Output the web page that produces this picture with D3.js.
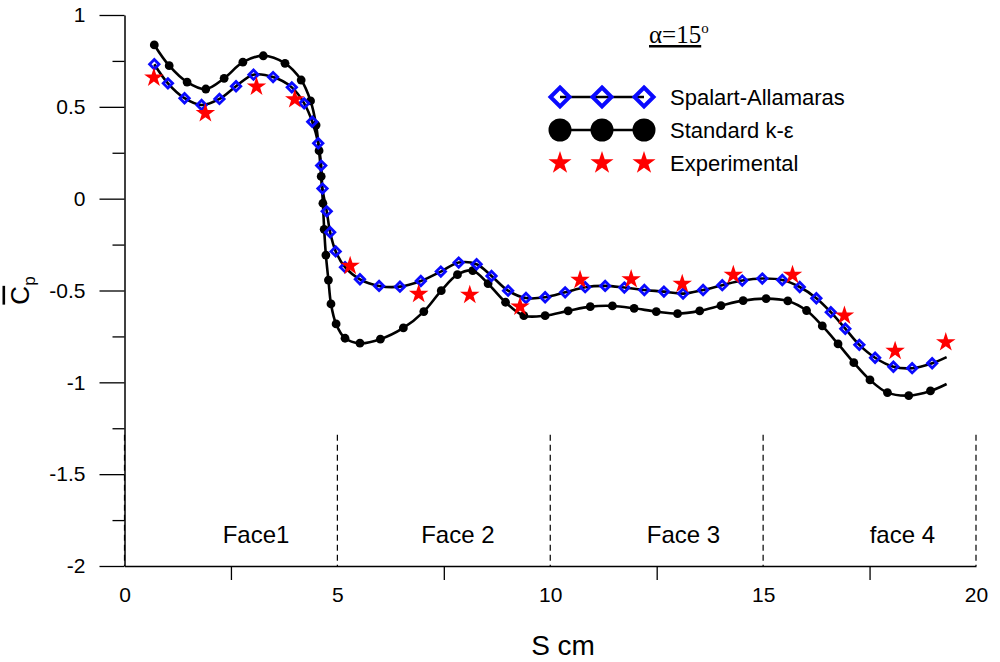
<!DOCTYPE html>
<html>
<head>
<meta charset="utf-8">
<script src="https://cdn.jsdelivr.net/npm/d3@7"></script>
<style>
    body { margin: 0; background: #fff; }
    text { font-family: "Liberation Sans", Arial, sans-serif; }
</style>
</head>
<body>
<div id="my_dataviz"></div>
<script>
// data
var saX = [0.70, 1.02, 1.41, 1.81, 2.23, 2.62, 3.03, 3.49, 3.93, 4.22, 4.41, 4.55, 4.62, 4.65, 4.75, 4.83, 4.96, 5.18, 5.53, 5.98, 6.47, 6.96, 7.43, 7.85, 8.27, 8.62, 9.01, 9.43, 9.88, 10.35, 10.82, 11.29, 11.74, 12.21, 12.67, 13.12, 13.59, 14.04, 14.51, 14.98, 15.45, 15.86, 16.25, 16.59, 16.93, 17.26, 17.63, 18.06, 18.50, 18.97, 19.31];
var saY = [0.732, 0.628, 0.547, 0.510, 0.543, 0.612, 0.675, 0.662, 0.606, 0.519, 0.419, 0.302, 0.180, 0.055, -0.069, -0.183, -0.287, -0.373, -0.439, -0.475, -0.479, -0.448, -0.397, -0.348, -0.357, -0.421, -0.501, -0.541, -0.537, -0.510, -0.482, -0.475, -0.484, -0.497, -0.506, -0.517, -0.497, -0.471, -0.446, -0.435, -0.443, -0.481, -0.542, -0.618, -0.708, -0.796, -0.866, -0.915, -0.923, -0.896, -0.863];

var keX = [0.70, 1.05, 1.47, 1.91, 2.34, 2.78, 3.26, 3.77, 4.15, 4.37, 4.50, 4.57, 4.62, 4.66, 4.69, 4.73, 4.79, 4.85, 4.97, 5.18, 5.53, 6.01, 6.55, 7.03, 7.44, 7.82, 8.18, 8.54, 8.95, 9.38, 9.88, 10.42, 10.94, 11.46, 11.97, 12.49, 12.99, 13.51, 14.01, 14.53, 15.07, 15.58, 16.02, 16.39, 16.76, 17.13, 17.51, 17.92, 18.42, 18.93, 19.31];
var keY = [0.837, 0.724, 0.635, 0.597, 0.655, 0.743, 0.778, 0.737, 0.646, 0.532, 0.401, 0.261, 0.121, -0.025, -0.167, -0.307, -0.443, -0.573, -0.682, -0.760, -0.787, -0.765, -0.704, -0.615, -0.501, -0.414, -0.392, -0.463, -0.564, -0.637, -0.637, -0.611, -0.588, -0.584, -0.597, -0.615, -0.626, -0.611, -0.582, -0.555, -0.544, -0.557, -0.609, -0.693, -0.791, -0.893, -0.987, -1.056, -1.072, -1.047, -1.009];

var expX = [0.69, 1.90, 3.10, 4.00, 5.30, 6.91, 8.11, 9.29, 10.70, 11.90, 13.10, 14.30, 15.69, 16.91, 18.10, 19.29];
var expY = [0.659, 0.465, 0.610, 0.541, -0.366, -0.519, -0.524, -0.588, -0.443, -0.439, -0.464, -0.415, -0.415, -0.637, -0.829, -0.782];

var xTicks = [0, 5, 10, 15, 20];
var xMinorTicks = [2.5, 7.5, 12.5, 17.5];
var yTicks = [-2, -1.5, -1, -0.5, 0, 0.5, 1];
var yMinorTicks = [-1.75, -1.25, -0.75, -0.25, 0.25, 0.75];

var faceNames = ["Face1", "Face 2", "Face 3", "face 4"];
var faceLabelX = [3.09, 7.83, 13.13, 18.27];
var faceBounds = [0, 5, 10, 15, 20];

var seriesNames = ["Spalart-Allamaras", "Standard k-\u03b5", "Experimental"];

// set the dimensions and margins of the graph
var margin = { top: 15, right: 24, bottom: 96, left: 124.5 },
    width = 1000 - margin.left - margin.right,
    height = 662 - margin.top - margin.bottom;

var svg = d3.select("#my_dataviz")
    .append("svg")
    .attr("width", width + margin.left + margin.right)
    .attr("height", height + margin.top + margin.bottom)
    .append("g")
    .attr("transform", "translate(" + margin.left + "," + margin.top + ")");

var x = d3.scaleLinear().domain([0, 20]).range([0, width]);
var y = d3.scaleLinear().domain([-2, 1]).range([height, 0]);

// dashed face separators
svg.selectAll("sep")
    .data(faceBounds)
    .enter()
    .append("line")
    .attr("x1", d => x(d))
    .attr("x2", d => x(d))
    .attr("y1", y(-1.285))
    .attr("y2", y(-2))
    .attr("stroke", "#000")
    .attr("stroke-width", 1.2)
    .attr("stroke-dasharray", "6,4");

// X axis
var xAxis = svg.append("g")
    .attr("transform", "translate(0," + height + ")")
    .call(d3.axisBottom(x).tickValues(xTicks).tickSize(0).tickSizeOuter(0).tickPadding(21).tickFormat(d => String(d)));
xAxis.select(".domain").attr("stroke-width", 1.5);
xAxis.selectAll("text").style("font-size", "21px").attr("fill", "#000");

svg.append("g")
    .attr("transform", "translate(0," + height + ")")
    .call(d3.axisBottom(x).tickValues(xMinorTicks).tickSize(14).tickSizeOuter(0).tickFormat(""))
    .call(g => g.select(".domain").remove())
    .selectAll("line").attr("stroke-width", 1.3);

// Y axis
var yAxis = svg.append("g")
    .call(d3.axisLeft(y).tickValues(yTicks).tickSize(25).tickSizeOuter(0).tickPadding(14).tickFormat(d => String(d)));
yAxis.select(".domain").attr("stroke-width", 1.5);
yAxis.selectAll("line").attr("stroke-width", 1.3);
yAxis.selectAll("text").style("font-size", "21px").attr("fill", "#000");

svg.append("g")
    .call(d3.axisLeft(y).tickValues(yMinorTicks).tickSize(12).tickSizeOuter(0).tickFormat(""))
    .call(g => g.select(".domain").remove())
    .selectAll("line").attr("stroke-width", 1.3);

// axis titles
svg.append("text")
    .attr("x", x(10.3))
    .attr("y", height + 89)
    .attr("text-anchor", "middle")
    .style("font-size", "28px")
    .text("S cm");

var yTitle = svg.append("text")
    .attr("transform", "translate(" + (-96) + "," + y(-0.5) + ") rotate(-90)")
    .attr("text-anchor", "middle")
    .style("font-size", "26px");
yTitle.append("tspan").style("text-decoration", "overline").text("C");
yTitle.append("tspan").attr("dy", 6).style("font-size", "17px").text("p");

// face labels
svg.selectAll("faceLabel")
    .data(faceNames)
    .enter()
    .append("text")
    .attr("x", (d, i) => x(faceLabelX[i]))
    .attr("y", y(-1.874))
    .attr("text-anchor", "middle")
    .style("font-size", "24px")
    .text(d => d);

// lines
var line = d3.line()
    .x(d => x(d[0]))
    .y(d => y(d[1]))
    .curve(d3.curveCatmullRom);

var saData = saX.map((d, i) => [d, saY[i]]);
var keData = keX.map((d, i) => [d, keY[i]]);
var expData = expX.map((d, i) => [d, expY[i]]);

svg.append("path")
    .datum(keData)
    .attr("d", line)
    .attr("fill", "none")
    .attr("stroke", "#000")
    .attr("stroke-width", 2.6);

svg.append("path")
    .datum(saData)
    .attr("d", line)
    .attr("fill", "none")
    .attr("stroke", "#000")
    .attr("stroke-width", 2.6);

var diamond = function(r) {
    return "M0," + (-r) + "L" + r + ",0L0," + r + "L" + (-r) + ",0Z";
};
var star = d3.symbol().type(d3.symbolStar);

// markers (the last point only ends the line)
svg.selectAll("dot")
    .data(keData.slice(0, -1))
    .enter()
    .append("circle")
    .attr("cx", d => x(d[0]))
    .attr("cy", d => y(d[1]))
    .attr("r", 4.4)
    .attr("fill", "#000");

svg.selectAll("dia")
    .data(saData.slice(0, -1))
    .enter()
    .append("path")
    .attr("transform", d => "translate(" + x(d[0]) + "," + y(d[1]) + ")")
    .attr("d", diamond(4.7))
    .attr("fill", "none")
    .attr("stroke", "#0a0aff")
    .attr("stroke-width", 2.8);

svg.selectAll("exp")
    .data(expData)
    .enter()
    .append("path")
    .attr("transform", d => "translate(" + x(d[0]) + "," + y(d[1]) + ")")
    .attr("d", star.size(118))
    .attr("fill", "#ff0000");

// legend
var legend = svg.append("g").attr("transform", "translate(" + (560 - margin.left) + "," + (97 - margin.top) + ")");
var legX = [0, 42, 84];

legend.append("line").attr("x1", 0).attr("x2", 84).attr("y1", 0).attr("y2", 0)
    .attr("stroke", "#000").attr("stroke-width", 2.6);
legend.append("line").attr("x1", 0).attr("x2", 84).attr("y1", 33).attr("y2", 33)
    .attr("stroke", "#000").attr("stroke-width", 2.6);

legend.selectAll("ld")
    .data(legX)
    .enter()
    .append("path")
    .attr("transform", d => "translate(" + d + ",0)")
    .attr("d", diamond(9.5))
    .attr("fill", "none")
    .attr("stroke", "#0a0aff")
    .attr("stroke-width", 4);

legend.selectAll("lc")
    .data(legX)
    .enter()
    .append("circle")
    .attr("cx", d => d)
    .attr("cy", 33)
    .attr("r", 11.5)
    .attr("fill", "#000");

legend.selectAll("ls")
    .data(legX)
    .enter()
    .append("path")
    .attr("transform", d => "translate(" + d + ",66)")
    .attr("d", star.size(165))
    .attr("fill", "#ff0000");

legend.selectAll("lt")
    .data(seriesNames)
    .enter()
    .append("text")
    .attr("x", 110)
    .attr("y", (d, i) => i * 33)
    .attr("dy", "0.36em")
    .style("font-size", "22px")
    .text(d => d);

// title
var title = svg.append("text")
    .attr("x", 649 - margin.left)
    .attr("y", 43 - margin.top)
    .style("font-family", "'Liberation Serif', 'Times New Roman', serif")
    .style("font-size", "25px");
title.append("tspan").style("text-decoration", "underline").text("\u03b1=15");
title.append("tspan").attr("dy", -10).style("font-size", "15px").text("o");
</script>
</body>
</html>
